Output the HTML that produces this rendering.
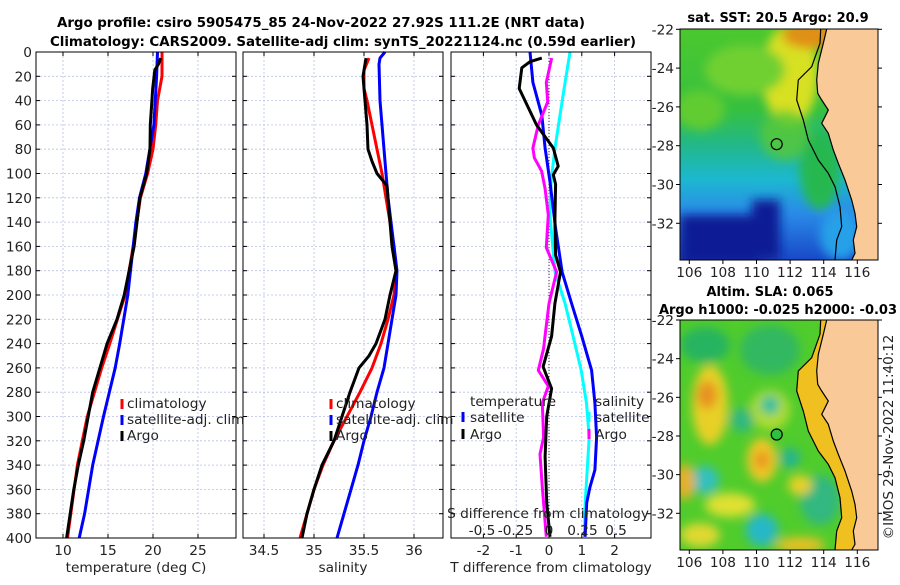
<!DOCTYPE html>
<html><head><meta charset="utf-8"><style>
body{margin:0;background:#fff;width:900px;height:580px;overflow:hidden}
svg text{font-family:"DejaVu Sans","Liberation Sans",sans-serif;fill:#222}
.b{font-weight:bold;fill:#000}
</style></head><body>
<svg id="s" width="900" height="580" viewBox="0 0 900 580" xmlns="http://www.w3.org/2000/svg">
<defs>
<filter id="bl" x="-10%" y="-10%" width="120%" height="120%"><feGaussianBlur stdDeviation="5"/></filter>
<clipPath id="c1"><rect x="680" y="29" width="198" height="231"/></clipPath>
<clipPath id="c2"><rect x="680" y="320" width="198" height="230"/></clipPath>
<linearGradient id="sstg" x1="0" y1="0" x2="0" y2="1">
<stop offset="0" stop-color="#4cc82e"/><stop offset="0.35" stop-color="#36c040"/><stop offset="0.5" stop-color="#22b888"/><stop offset="0.65" stop-color="#1cb8d0"/><stop offset="0.8" stop-color="#2a8ae8"/><stop offset="1" stop-color="#1848c8"/>
</linearGradient>
</defs>
<text class="b" x="57" y="27" font-size="13.4" textLength="528">Argo profile: csiro 5905475_85 24-Nov-2022 27.92S 111.2E (NRT data)</text>
<text class="b" x="50" y="46" font-size="13.4" textLength="586">Climatology: CARS2009. Satellite-adj clim: synTS_20221124.nc (0.59d earlier)</text>
<g id="panels"></g>

<!-- SST map -->
<g>
<g clip-path="url(#c1)">
<rect x="680" y="29" width="198" height="231" fill="url(#sstg)"/>
<g filter="url(#bl)">
<ellipse cx="790" cy="75" rx="28" ry="50" fill="#d8e020"/>
<ellipse cx="812" cy="35" rx="30" ry="14" fill="#e09018"/>
<ellipse cx="745" cy="70" rx="40" ry="25" fill="#70d030"/>
<ellipse cx="700" cy="110" rx="25" ry="20" fill="#60cc30"/>
<ellipse cx="785" cy="135" rx="25" ry="25" fill="#58c838" opacity="0.8"/>
<ellipse cx="820" cy="170" rx="20" ry="40" fill="#28b850"/>
<rect x="680" y="215" width="80" height="50" fill="#0c1c94"/>
<rect x="752" y="200" width="28" height="60" fill="#0c1c94"/>
<ellipse cx="840" cy="235" rx="20" ry="25" fill="#28a0e8"/>
</g>
</g>
<polygon fill="#f9c998" points="826.7,29 823.3,43.3 818.3,63.3 816.7,80 817.7,93.3 821.7,100 828.3,110 825,116.7 821.7,123.3 828.3,133.3 833.3,150 838.3,163.3 845,180 851.7,200 855,213.3 856.7,226.7 853.3,240 855,253.3 851.7,260 878,260 878,29"/>
<polyline fill="none" stroke="#000" stroke-width="1.2" points="826.7,29 823.3,43.3 818.3,63.3 816.7,80 817.7,93.3 821.7,100 828.3,110 825,116.7 821.7,123.3 828.3,133.3 833.3,150 838.3,163.3 845,180 851.7,200 855,213.3 856.7,226.7 853.3,240 855,253.3 851.7,260"/>
<polyline fill="none" stroke="#000" stroke-width="1.2" points="820.7,29 820,43.3 811.7,66.7 798.3,80 796.7,100 803.3,120 808.3,140 818.3,160 828.3,173.3 835,186.7 840,206.7 841.7,226.7 836.7,240 835,260"/>
<circle cx="776.7" cy="144.2" r="5.5" fill="none" stroke="#000" stroke-width="1.2"/>
<rect x="680" y="29" width="198" height="231" fill="none" stroke="#000" stroke-width="1"/>
</g>
<text class="b" x="778" y="22" font-size="13" text-anchor="middle">sat. SST: 20.5 Argo: 20.9</text>

<!-- SLA map -->
<g>
<g clip-path="url(#c2)">
<rect x="680" y="320" width="198" height="230" fill="#50cc2c"/>
<g filter="url(#bl)">
<ellipse cx="705" cy="345" rx="25" ry="18" fill="#28b460"/>
<ellipse cx="770" cy="350" rx="30" ry="25" fill="#30b860"/>
<ellipse cx="710" cy="405" rx="18" ry="40" fill="#e8d028"/>
<ellipse cx="707" cy="395" rx="10" ry="14" fill="#e89020"/>
<ellipse cx="770" cy="410" rx="20" ry="20" fill="#c8e030" opacity="0.8"/>
<ellipse cx="770" cy="405" rx="10" ry="10" fill="#30c0a0"/>
<ellipse cx="742" cy="420" rx="12" ry="12" fill="#30b880"/>
<ellipse cx="762" cy="460" rx="15" ry="22" fill="#f0c828"/>
<ellipse cx="762" cy="460" rx="7" ry="9" fill="#e89020"/>
<ellipse cx="790" cy="458" rx="10" ry="10" fill="#28b490"/>
<ellipse cx="705" cy="480" rx="14" ry="14" fill="#30c0c0"/>
<ellipse cx="685" cy="482" rx="10" ry="18" fill="#e8b028"/>
<ellipse cx="730" cy="505" rx="25" ry="12" fill="#e0e030"/>
<ellipse cx="762" cy="530" rx="16" ry="16" fill="#28b8c8"/>
<ellipse cx="820" cy="500" rx="20" ry="25" fill="#30b880"/>
<ellipse cx="800" cy="485" rx="12" ry="10" fill="#e8d028"/>
<ellipse cx="700" cy="535" rx="20" ry="12" fill="#e0d830"/>
<ellipse cx="800" cy="545" rx="25" ry="8" fill="#e8c028"/>
</g>
<g transform="translate(0,291)">
<polygon fill="#f0c020" points="820.7,29 820,43.3 811.7,66.7 798.3,80 796.7,100 803.3,120 808.3,140 818.3,160 828.3,173.3 835,186.7 840,206.7 841.7,226.7 836.7,240 835,260 878,260 878,29"/>
</g>
</g>
<g transform="translate(0,291)">
<polygon fill="#f9c998" points="826.7,29 823.3,43.3 818.3,63.3 816.7,80 817.7,93.3 821.7,100 828.3,110 825,116.7 821.7,123.3 828.3,133.3 833.3,150 838.3,163.3 845,180 851.7,200 855,213.3 856.7,226.7 853.3,240 855,253.3 851.7,259 878,259 878,29"/>
<polyline fill="none" stroke="#000" stroke-width="1.2" points="826.7,29 823.3,43.3 818.3,63.3 816.7,80 817.7,93.3 821.7,100 828.3,110 825,116.7 821.7,123.3 828.3,133.3 833.3,150 838.3,163.3 845,180 851.7,200 855,213.3 856.7,226.7 853.3,240 855,253.3 851.7,259"/>
<polyline fill="none" stroke="#000" stroke-width="1.2" points="820.7,29 820,43.3 811.7,66.7 798.3,80 796.7,100 803.3,120 808.3,140 818.3,160 828.3,173.3 835,186.7 840,206.7 841.7,226.7 836.7,240 835,259"/>
</g>
<circle cx="776.7" cy="434.5" r="5.5" fill="#30c040" stroke="#000" stroke-width="1.2"/>
<rect x="680" y="320" width="198" height="230" fill="none" stroke="#000" stroke-width="1"/>
</g>
<text class="b" x="770" y="296" font-size="13" text-anchor="middle">Altim. SLA: 0.065</text>
<text class="b" x="778" y="314" font-size="13" text-anchor="middle">Argo h1000: -0.025 h2000: -0.03</text>
<text x="0" y="0" font-size="13.5" text-anchor="middle" transform="translate(893,437) rotate(-90)">©IMOS 29-Nov-2022 11:40:12</text>
<g id="mapaxes"></g>
</svg>
<script>
// ---- data ----
const tArgoDepth=[5,10,15,30,60,80,100,120,160,200,220,240,260,280,300,320,340,360,380,400];
const tArgo=[20.86,20.6,20.2,19.97,19.7,19.67,19.3,18.55,17.9,16.8,16.0,14.9,14.1,13.3,12.8,12.3,11.7,11.2,10.8,10.4];
const tClimDepth=[0,20,40,60,80,100,120,160,200,240,260,300,340,400];
const tClim=[21.0,21.0,20.5,20.3,20.0,19.4,18.6,17.8,16.9,15.2,14.3,12.7,11.6,10.5];
const tSatDepth=[0,20,60,100,120,140,160,200,240,260,300,340,380,400];
const tSat=[20.5,20.4,20.1,19.2,18.5,18.1,17.8,17.2,16.3,15.8,14.5,13.3,12.4,11.8];
const sArgoDepth=[5,20,30,60,80,90,100,110,120,140,160,180,200,220,240,250,260,280,300,320,340,360,380,400];
const sArgo=[35.52,35.49,35.5,35.53,35.54,35.58,35.63,35.73,35.74,35.76,35.78,35.82,35.76,35.71,35.62,35.55,35.45,35.36,35.28,35.2,35.08,35.0,34.93,34.88];
const sClimDepth=[5,15,30,40,60,80,100,120,140,160,180,200,220,240,260,280,300,320,340,360,380,400];
const sClim=[35.55,35.5,35.5,35.53,35.58,35.63,35.68,35.72,35.76,35.8,35.82,35.8,35.74,35.67,35.58,35.46,35.33,35.2,35.09,35.0,34.93,34.86];
const sSatDepth=[0,5,10,40,60,80,100,120,140,160,180,200,220,240,260,280,300,320,340,360,380,400];
const sSat=[35.71,35.66,35.65,35.66,35.68,35.7,35.72,35.74,35.77,35.8,35.83,35.82,35.78,35.74,35.7,35.63,35.57,35.5,35.44,35.37,35.3,35.23];
const dTArgoDepth=[5,8,13,30,60,79,94,101,109,139,167,181,207,234,259,277,300,333,371,399];
const dTArgo=[-0.22,-0.58,-0.83,-0.91,-0.38,0.13,0.28,0.13,0.2,0.18,0.2,0.35,0.18,0.08,-0.18,0.08,-0.07,-0.12,-0.07,0.03];
const dTSatDepth=[0,25,52,79,107,145,181,207,234,262,289,317,344,358,371,399];
const dTSat=[-0.58,-0.49,-0.22,-0.12,0.03,0.2,0.4,0.69,1.0,1.3,1.4,1.45,1.4,1.25,1.15,1.1];
const dSSatDepth=[0,25,52,79,107,134,181,207,234,262,289,317,344,371,399];
const dSSat=[0.157,0.12,0.082,0.045,0.015,0.007,0.045,0.12,0.18,0.24,0.28,0.3,0.285,0.27,0.265];
const dSArgoDepth=[5,25,41,60,79,87,98,112,134,161,181,207,234,244,262,275,289,317,331,358,399];
const dSArgo=[0.02,-0.02,-0.01,-0.08,-0.12,-0.11,-0.055,-0.03,-0.005,-0.02,0.057,0,-0.03,-0.04,-0.08,-0.005,-0.05,-0.04,-0.067,-0.05,-0.02];
const depthTicks=[0,20,40,60,80,100,120,140,160,180,200,220,240,260,280,300,320,340,360,380,400];
const tTicks=[10,15,20,25];
const sTicks=[34.5,35,35.5,36];
const dTTicks=[-2,-1,0,1,2];
const dSTicks=[-0.5,-0.25,0,0.25,0.5];
const dSTickLabels=['-0.5','-0.25','0','0.25','0.5'];
const lonTicks=[106,108,110,112,114,116];
const latTicks=[-22,-24,-26,-28,-30,-32];

// ---- axes ----
const NS='http://www.w3.org/2000/svg';
const FS=13.7;
const Y0=52,Y1=538;
const yD=d=>Y0+d*(Y1-Y0)/400;
function mk(tag,attrs,parent){const e=document.createElementNS(NS,tag);for(const k in attrs)e.setAttribute(k,attrs[k]);parent.appendChild(e);return e;}
const root=document.getElementById('panels');
const P1={x0:36,x1:236,min:7,max:7+200/9};
const P2={x0:243,x1:443,min:34.29,max:36.29};
const P3T={x0:451,x1:651,min:-98/32.8,max:102/32.8};
const P3S={x0:451,x1:651,min:-98/134,max:102/134};
const xS=(p,v)=>p.x0+(v-p.min)/(p.max-p.min)*(p.x1-p.x0);

function frame(p,ticks,labels,name,showY){
  const g=mk('g',{},root);
  
  
  depthTicks.forEach(d=>{
    const l=mk('line',{x1:p.x0,x2:p.x1,y1:yD(d),y2:yD(d),stroke:'#b8c0e4','stroke-width':0.8,'stroke-dasharray':'2,2'},g);
    
    
    mk('line',{x1:p.x0,x2:p.x0+4,y1:yD(d),y2:yD(d),stroke:'#000'},g);
    mk('line',{x1:p.x1,x2:p.x1-4,y1:yD(d),y2:yD(d),stroke:'#000'},g);
    if(showY){const t=mk('text',{x:p.x0-4,y:yD(d)+5,'font-size':FS,'text-anchor':'end'},g);t.textContent=d;
      
      }
  });
  ticks.forEach((v,i)=>{
    const x=xS(p,v);
    const l=mk('line',{x1:x,x2:x,y1:Y0,y2:Y1,stroke:'#b8c0e4','stroke-width':0.8,'stroke-dasharray':'2,2'},g);
    
    
    mk('line',{x1:x,x2:x,y1:Y1,y2:Y1-4,stroke:'#000'},g);
    mk('line',{x1:x,x2:x,y1:Y0,y2:Y0+4,stroke:'#000'},g);
    const t=mk('text',{x:x,y:555,'font-size':FS,'text-anchor':'middle'},g);t.textContent=labels[i];
    
    
  });
  return g;
}
function border(p){mk('rect',{x:p.x0,y:Y0,width:p.x1-p.x0,height:Y1-Y0,fill:'none',stroke:'#000','stroke-width':1},root);}
function line(p,vals,deps,color,name,w){
  const pts=vals.map((v,i)=>xS(p,v).toFixed(1)+','+yD(deps[i]).toFixed(1)).join(' ');
  const e=mk('polyline',{points:pts,fill:'none',stroke:color,'stroke-width':w||3,'stroke-linejoin':'round'},root);
  
  
}
function txt(x,y,s,name,anchor,size){const t=mk('text',{x:x,y:y,'font-size':size||FS,'text-anchor':anchor||'start'},root);t.textContent=s;
  
  return t;}
function mark(x,y,c){const r=mk('rect',{x:x-1.5,y:y-10,width:3,height:10,fill:c},root);
  
  }

frame(P1,tTicks,tTicks,'temperature-axes',true);
frame(P2,sTicks,sTicks,'salinity-axes',false);
frame(P3T,dTTicks,dTTicks,'difference-axes',false);
const z=mk('line',{x1:xS(P3T,0),x2:xS(P3T,0),y1:Y0,y2:Y1,stroke:'#333','stroke-width':1,'stroke-dasharray':'1,2'},root);



line(P1,tClim,tClimDepth,'#ff0000','temp-climatology-line');
line(P1,tSat,tSatDepth,'#0000ff','temp-satellite-line');
line(P1,tArgo,tArgoDepth,'#000','temp-argo-line');
line(P2,sClim,sClimDepth,'#ff0000','sal-climatology-line');
line(P2,sSat,sSatDepth,'#0000ff','sal-satellite-line');
line(P2,sArgo,sArgoDepth,'#000','sal-argo-line');
line(P3S,dSSat,dSSatDepth,'#00ffff','sdiff-satellite-line');
line(P3T,dTSat,dTSatDepth,'#0000ff','tdiff-satellite-line');
line(P3S,dSArgo,dSArgoDepth,'#ff00ff','sdiff-argo-line');
line(P3T,dTArgo,dTArgoDepth,'#000','tdiff-argo-line');
[P1,P2,P3T].forEach(border);

mark(122,409,'#ff0000');txt(127,408,'climatology','legend-climatology');
mark(122,425,'#0000ff');txt(127,424,'satellite-adj. clim','legend-satellite');
mark(122,441,'#000');txt(127,440,'Argo','legend-argo');
mark(331,409,'#ff0000');txt(336,408,'climatology','legend-climatology-2');
mark(331,425,'#0000ff');txt(336,424,'satellite-adj. clim','legend-satellite-2');
mark(331,441,'#000');txt(336,440,'Argo','legend-argo-2');
txt(470,406,'temperature','legend-temperature-header');
mark(463,422,'#0000ff');txt(470,422,'satellite','legend-t-satellite');
mark(463,439,'#000');txt(470,439,'Argo','legend-t-argo');
txt(595,406,'salinity','legend-salinity-header');
mark(589,422,'#00ffff');txt(595,422,'satellite','legend-s-satellite');
mark(589,439,'#ff00ff');txt(595,439,'Argo','legend-s-argo');
txt(548,518,'S difference from climatology','s-diff-axis-title','middle');
dSTicks.forEach((v,i)=>txt(xS(P3S,v),535,dSTickLabels[i],'s-diff-tick-label','middle'));
txt(136,572,'temperature (deg C)','x-axis-title-temperature','middle');
txt(343,572,'salinity','x-axis-title-salinity','middle');
txt(551,572,'T difference from climatology','x-axis-title-tdiff','middle');

const ma=document.getElementById('mapaxes');
function mapAxes(top,bot,latStep){
  lonTicks.forEach(lo=>{const x=689.3+(lo-106)*16.8;
    mk('line',{x1:x,x2:x,y1:bot,y2:bot+4,stroke:'#000'},ma);
    const t=mk('text',{x:x,y:bot+17,'font-size':FS,'text-anchor':'middle'},ma);t.textContent=lo;
    
    });
  latTicks.forEach(la=>{const y=top+(-22-la)*latStep;
    mk('line',{x1:676,x2:680,y1:y,y2:y,stroke:'#000'},ma);
    mk('line',{x1:878,x2:882,y1:y,y2:y,stroke:'#000'},ma);
    const t=mk('text',{x:674,y:y+5,'font-size':FS,'text-anchor':'end'},ma);t.textContent=la;
    
    });
}
mapAxes(29.3,260,19.4);
mapAxes(320,550,19.33);
</script>
</body></html>
